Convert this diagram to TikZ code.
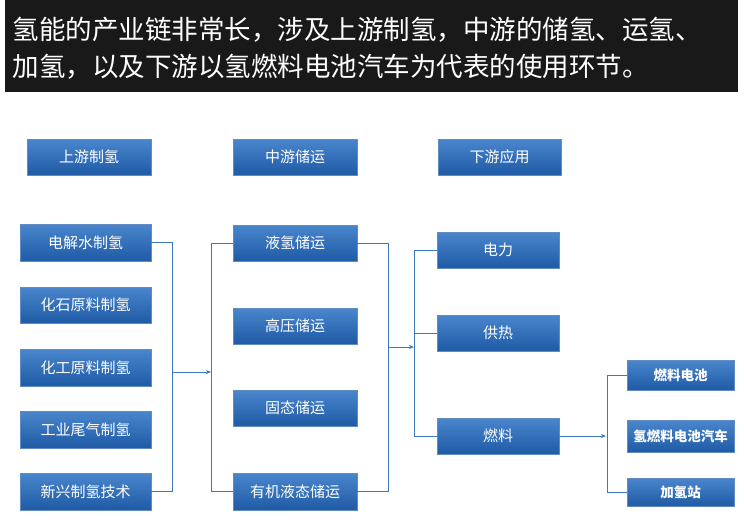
\documentclass[tikz,border=0pt]{standalone}
\usepackage{fontspec}
\setmainfont{Noto Sans CJK SC}
\usetikzlibrary{arrows.meta}
\definecolor{btop}{HTML}{4A86CC}
\definecolor{bbot}{HTML}{1F5BA6}
\definecolor{lnc}{HTML}{3B78C0}
\tikzset{x=1pt,y=-1pt,
 bx/.style={draw=bbot!70!white,line width=0.4pt,top color=btop,bottom color=bbot,text=white,font=\fontsize{15}{17}\selectfont,inner sep=0pt},
 sbx/.style={bx,font=\fontsize{13.5}{15}\selectfont\bfseries},
 ln/.style={draw=lnc,line width=0.6pt},
 ar/.style={ln,-{Stealth[length=5pt,width=4pt]}}}
\newcommand{\bxat}[6]{\node[#1,minimum width=#4-#2,minimum height=#5-#3] (#6) at ({(#2+#4)/2},{(#3+#5)/2}) {#6};}
\begin{document}
\begin{tikzpicture}
\useasboundingbox (0,0) rectangle (744,528);
\fill[white] (0,0) rectangle (744,528);
\fill[black!90] (5,0) rectangle (738,92);
\node[anchor=west,text=white,font=\fontsize{26.5}{30}\selectfont] (t1) at (9,30) {氢能的产业链非常长，涉及上游制氢，中游的储氢、运氢、};
\node[anchor=west,text=white,font=\fontsize{26.5}{30}\selectfont] (t2) at (9,67) {加氢，以及下游以氢燃料电池汽车为代表的使用环节。};
\bxat{bx}{27}{139}{151}{175}{上游制氢}
\bxat{bx}{233}{139}{357}{175}{中游储运}
\bxat{bx}{438}{139}{561}{175}{下游应用}
\bxat{bx}{20}{224}{151}{261}{电解水制氢}
\bxat{bx}{20}{287}{151}{323}{化石原料制氢}
\bxat{bx}{20}{349}{151}{386}{化工原料制氢}
\bxat{bx}{20}{411}{151}{448}{工业尾气制氢}
\bxat{bx}{20}{473}{151}{510}{新兴制氢技术}
\bxat{bx}{233}{225}{357}{261}{液氢储运}
\bxat{bx}{233}{308}{357}{344}{高压储运}
\bxat{bx}{233}{390}{357}{426}{固态储运}
\bxat{bx}{233}{473}{357}{510}{有机液态储运}
\bxat{bx}{437}{232}{559}{268}{电力}
\bxat{bx}{437}{315}{559}{351}{供热}
\bxat{bx}{437}{418}{559}{454}{燃料}
\bxat{sbx}{627}{360}{734}{390}{燃料电池}
\bxat{sbx}{627}{420}{734}{452}{氢燃料电池汽车}
\bxat{sbx}{627}{478}{734}{506}{加氢站}
\coordinate (c1) at (172,372);
\coordinate (m1) at (211,372);
\draw[ln] (电解水制氢.east) -- (172,242.5) -- (172,491.5) -- (新兴制氢技术.east);
\draw[ar] (c1) -- (m1);
\draw[ln] (液氢储运.west) -- (211,243) -- (211,491.5) -- (有机液态储运.west);
\coordinate (c2) at (388,347);
\coordinate (m2) at (414,347);
\draw[ln] (液氢储运.east) -- (388,243) -- (388,491.5) -- (有机液态储运.east);
\draw[ar] (c2) -- (m2);
\draw[ln] (电力.west) -- (414,250) -- (414,436) -- (燃料.west);
\draw[ln] (414,333) -- (供热.west);
\coordinate (m3) at (606,436);
\draw[ar] (燃料.east) -- (m3);
\draw[ln] (燃料电池.west) -- (607,375) -- (607,492) -- (加氢站.west);
\end{tikzpicture}
\end{document}
